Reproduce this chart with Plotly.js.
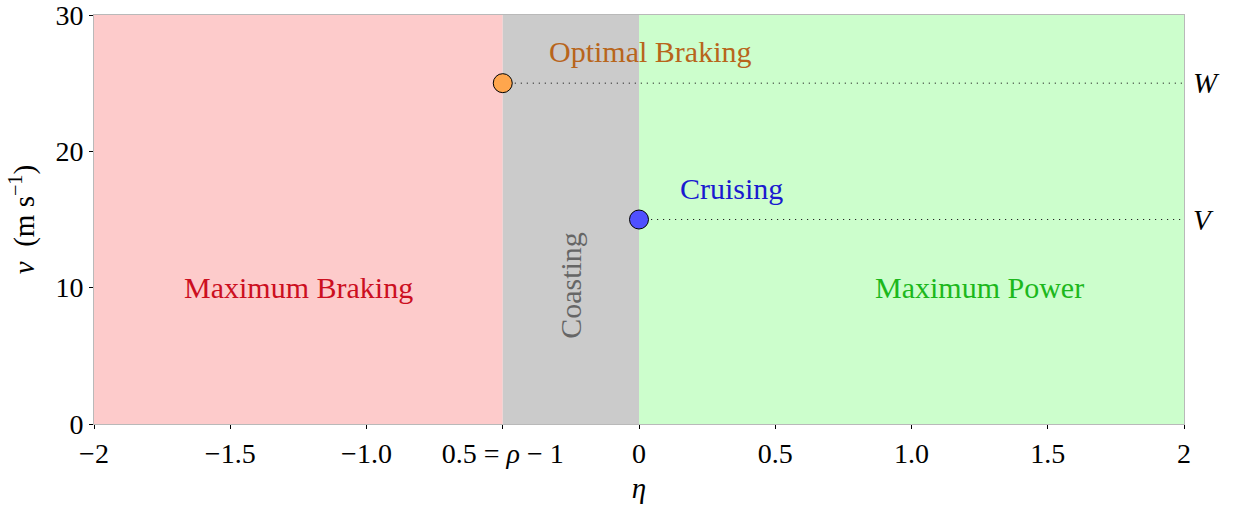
<!DOCTYPE html>
<html>
<head>
<meta charset="utf-8">
<script src="https://cdn.plot.ly/plotly-3.0.1.min.js"></script>
<style>
  html, body { margin: 0; padding: 0; background: #fff; }
  #chart { width: 1233px; height: 507px; }
</style>
</head>
<body>
<div id="chart"></div>
<script>
// Control regimes in the (eta, v) plane
const etaMin = -2, etaMax = 2;
const vMin = 0, vMax = 30;
const rho = 0.5;                  // eta threshold for coasting is rho - 1
const etaCoast = rho - 1;         // -0.5
const etaCruise = 0;

const speedW = 25;                // optimal braking speed
const speedV = 15;                // cruising speed

const regionNames = ['Maximum Braking', 'Coasting', 'Maximum Power'];
const regionLeft = [etaMin, etaCoast, etaCruise];
const regionRight = [etaCoast, etaCruise, etaMax];
const regionFill = ['#fdcbcb', '#cbcbcb', '#ccfecc'];

const labelText = ['Maximum Braking', 'Coasting', 'Maximum Power', 'Optimal Braking', 'Cruising'];
const labelX = [-1.25, -0.25, 1.25, 0.04, 0.34];
const labelY = [10, 10.2, 10, 27.3, 17.3];
const labelColor = ['#cc0f1f', '#666666', '#1cb81c', '#b8651b', '#1a1ad0'];
const labelAngle = [0, -90, 0, 0, 0];

const pointEta = [etaCoast, etaCruise];
const pointV = [speedW, speedV];
const pointColor = ['#ffa64d', '#5050ff'];
const levelNames = ['W', 'V'];

const xTickVals = [-2, -1.5, -1.0, -0.5, 0, 0.5, 1.0, 1.5, 2];
const xTickText = ['\u22122', '\u22121.5', '\u22121.0', '0.5 = <i>\u03c1</i> \u2212 1', '0', '0.5', '1.0', '1.5', '2'];
const yTickVals = [0, 10, 20, 30];

const serif = 'Liberation Serif, Times New Roman, serif';

const traces = [];
for (let i = 0; i < regionNames.length; i++) {
  traces.push({
    type: 'scatter', mode: 'lines',
    x: [regionLeft[i], regionRight[i], regionRight[i], regionLeft[i], regionLeft[i]],
    y: [vMin, vMin, vMax, vMax, vMin],
    fill: 'toself', fillcolor: regionFill[i],
    line: { width: 0 }, hoverinfo: 'skip', showlegend: false
  });
}
for (let i = 0; i < pointEta.length; i++) {
  traces.push({
    type: 'scatter', mode: 'lines',
    x: [pointEta[i], etaMax], y: [pointV[i], pointV[i]],
    line: { color: '#222', width: 1, dash: '1.2px,4.8px' },
    hoverinfo: 'skip', showlegend: false
  });
}
traces.push({
  type: 'scatter', mode: 'markers',
  x: pointEta, y: pointV,
  marker: { size: 19, color: pointColor, line: { color: '#000', width: 1 } },
  cliponaxis: false, showlegend: false
});

const annotations = labelText.map((t, i) => ({
  x: labelX[i], y: labelY[i], xref: 'x', yref: 'y',
  text: t, showarrow: false, textangle: labelAngle[i],
  font: { family: serif, size: 30, color: labelColor[i] }
}));
levelNames.forEach((n, i) => annotations.push({
  x: 1, xref: 'paper', xanchor: 'left', xshift: 7,
  y: pointV[i], yref: 'y',
  text: '<i>' + n + '</i>', showarrow: false,
  font: { family: serif, size: 29, color: '#000' }
}));

const layout = {
  width: 1233, height: 507,
  margin: { l: 94, r: 49, t: 15, b: 83 },
  paper_bgcolor: '#fff', plot_bgcolor: '#fff',
  font: { family: serif, size: 28, color: '#000' },
  showlegend: false,
  xaxis: {
    range: [etaMin, etaMax], tickvals: xTickVals, ticktext: xTickText,
    ticks: 'outside', ticklen: 4, tickcolor: '#000', tickwidth: 1,
    showline: true, linecolor: '#b9b9b9', linewidth: 1, mirror: true,
    showgrid: false, zeroline: false, ticklabeloverflow: 'allow',
    tickfont: { family: serif, size: 28 },
    title: { text: '<i>\u03b7</i>', font: { family: serif, size: 29 }, standoff: 10 }
  },
  yaxis: {
    range: [vMin, vMax], tickvals: yTickVals,
    ticks: 'outside', ticklen: 4, tickcolor: '#000', tickwidth: 1,
    showline: true, linecolor: '#b9b9b9', linewidth: 1, mirror: true,
    showgrid: false, zeroline: false, ticklabeloverflow: 'allow',
    tickfont: { family: serif, size: 28 },
    title: { text: '<i>v</i>  (m s<sup>\u22121</sup>)', font: { family: serif, size: 29 }, standoff: 12 }
  },
  annotations: annotations
};

Plotly.newPlot('chart', traces, layout, { displayModeBar: false, staticPlot: true });
</script>
</body>
</html>
